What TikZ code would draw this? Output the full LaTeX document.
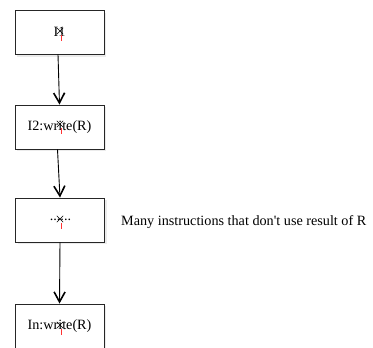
\documentclass[tikz,border=0pt]{standalone}
\usepackage{fontspec}
\setmainfont{Liberation Serif}
\usetikzlibrary{arrows.meta}
\begin{document}
\begin{tikzpicture}[x=1pt,y=-1pt,
  boxstyle/.style={draw=black!85,line width=0.9pt,fill=white,minimum width=89pt,minimum height=44pt,inner sep=0pt,font=\fontsize{14.2}{16}\selectfont},
  shadowbox/.style={fill=black!8,draw=none,minimum width=89pt,minimum height=44pt,inner sep=0pt},
  flow/.style={draw=black,line width=0.9pt,-{Straight Barb[length=10pt,width=11pt,line width=1.6pt]}},
  xmark/.style={draw=black,line width=0.7pt},
  redtick/.style={draw=red!80,line width=0.9pt}]
\useasboundingbox (0,0) rectangle (373,348);
% shadows
\node[shadowbox] at (61.5,34.5) {};
\node[shadowbox] at (61.5,129) {};
\node[shadowbox] at (62,222) {};
\node[shadowbox] at (61.5,328) {};
% boxes
\node[boxstyle] (a) at (59.5,32) {I1};
\node[boxstyle] (b) at (59.5,127) {I2:write(R)};
\node[boxstyle] (c) at (60,220) {\hspace*{1pt}......};
\node[boxstyle] (d) at (59.5,326) {In:write(R)};
% markers
\foreach \p in {(60,31),(60,124),(60,219),(60,325)}{
  \draw[xmark] \p ++(-3.2,-3.2) -- ++(6.4,6.4);
  \draw[xmark] \p ++(-3.2,3.2) -- ++(6.4,-6.4);
  \draw[redtick] \p ++(1.5,4) -- ++(0,6);
}
% connectors
\draw[flow] (a.south) ++(-1.5,0) coordinate (a1) -- (b.north);
\draw[flow] (b.south) ++(-2,0) coordinate (b1) -- (c.north);
\draw[flow] (c.south) -- (d.north);
\node[anchor=west,font=\fontsize{14.2}{16}\selectfont,inner sep=0pt] (note) at (121,222) {Many instructions that don\textquotesingle t use result of R};
\end{tikzpicture}
\end{document}
